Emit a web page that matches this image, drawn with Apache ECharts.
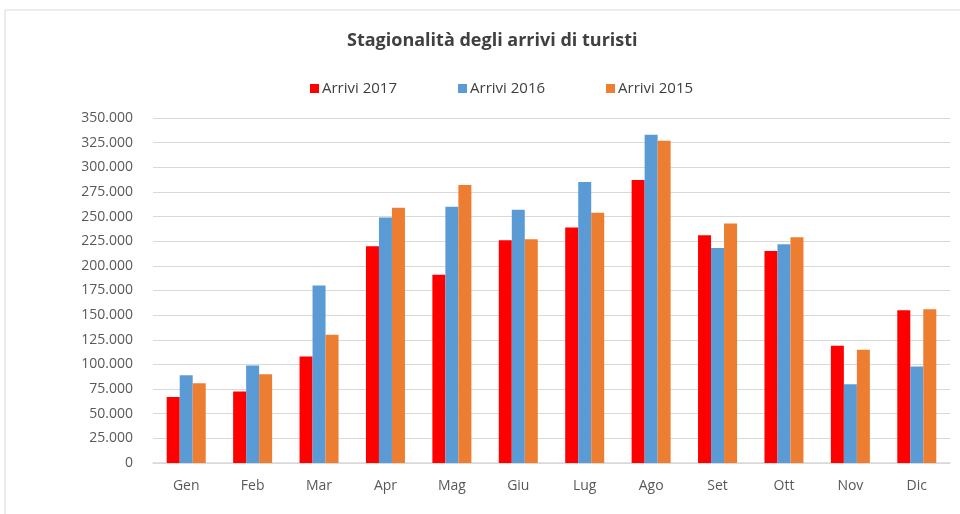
<!DOCTYPE html>
<html>
<head>
<meta charset="utf-8">
<script src="https://cdn.jsdelivr.net/npm/echarts@6/dist/echarts.min.js"></script>
<style>
html,body{margin:0;padding:0;background:#fff;}
#chart{width:960px;height:514px;}
</style>
</head>
<body>
<div id="chart"></div>
<script>
const categories = ['Gen','Feb','Mar','Apr','Mag','Giu','Lug','Ago','Set','Ott','Nov','Dic'];
const arrivi2017 = [67000, 72500, 108000, 220000, 191000, 226000, 239000, 287000, 231000, 215000, 119000, 155000];
const arrivi2016 = [89000, 99000, 180000, 249000, 260000, 257000, 285000, 333000, 218000, 222000, 80000, 98000];
const arrivi2015 = [81000, 90000, 130000, 259000, 282000, 227000, 254000, 327000, 243000, 229000, 115000, 156000];
const seriesNames = ['Arrivi 2017','Arrivi 2016','Arrivi 2015'];
const titleText = 'Stagionalità degli arrivi di turisti';

const FONT = 'Open Sans';
const chart = echarts.init(document.getElementById('chart'), null, {renderer:'canvas'});
function fmt(v){ return v === 0 ? '0' : String(v).replace(/\B(?=(\d{3})+(?!\d))/g, '.'); }
const colors = ['#FF0000','#5B9BD5','#ED7D31'];
const datasets = [arrivi2017, arrivi2016, arrivi2015];
chart.setOption({
  animation:false,
  backgroundColor:'#fff',
  graphic:[{type:'rect', shape:{x:5,y:10,width:1000,height:600}, style:{fill:'none', stroke:'#d9d9d9', lineWidth:1}, silent:true}],
  title:{text:titleText, left:342, top:27, textStyle:{fontFamily:FONT, fontSize:18, fontWeight:'bold', color:'#404040'}},
  legend:{top:76, left:305, itemWidth:9, itemHeight:9, itemGap:61, icon:'rect',
    textStyle:{fontFamily:FONT, fontSize:15, color:'#404040', padding:[0,0,0,-2]}},
  grid:{left:153, right:10, top:118, bottom:51, containLabel:false},
  xAxis:{type:'category', data:categories,
    axisLine:{lineStyle:{color:'#d9d9d9', width:1.5}}, axisTick:{show:false},
    axisLabel:{fontFamily:FONT, fontSize:14, color:'#595959', margin:16}},
  yAxis:{type:'value', min:0, max:350000, interval:25000,
    axisLine:{show:false}, axisTick:{show:false},
    splitLine:{lineStyle:{color:'#d9d9d9', width:1}},
    axisLabel:{fontFamily:FONT, fontSize:14, color:'#595959', margin:20, formatter:fmt}},
  series: seriesNames.map((n,i)=>({name:n, type:'bar', data:datasets[i], barWidth:13, barGap:'0%',
    itemStyle:{color:colors[i]}}))
});
</script>
</body>
</html>
